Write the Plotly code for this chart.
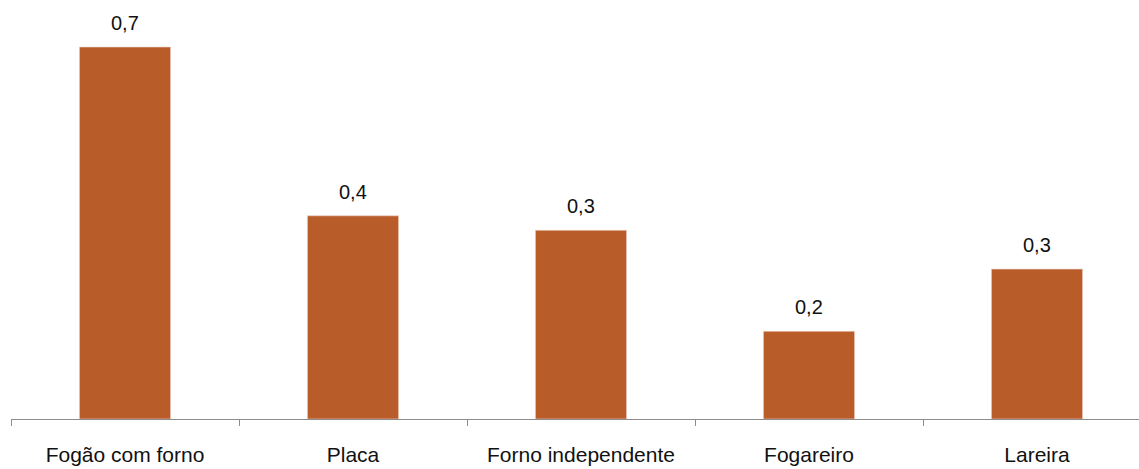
import plotly.graph_objects as go

categories = ["Fogão com forno", "Placa", "Forno independente", "Fogareiro", "Lareira"]
values = [0.67, 0.366, 0.340, 0.158, 0.270]
labels = ["0,7", "0,4", "0,3", "0,2", "0,3"]

BAR_COLOR = "#B85C29"

fig = go.Figure()
fig.add_trace(go.Bar(
    x=categories, y=values, width=0.40,
    marker=dict(color=BAR_COLOR, line=dict(color="#F2D9CC", width=0.6)),
    hoverinfo="skip",
))

for c, v, t in zip(categories, values, labels):
    fig.add_annotation(x=c, y=v, text=t, showarrow=False, yanchor="middle",
                       yshift=24, font=dict(family="Liberation Sans, Arial", size=20, color="#111111"))

fig.update_layout(
    width=1139, height=469,
    margin=dict(l=11, r=0, t=0, b=50),
    paper_bgcolor="white", plot_bgcolor="white",
    showlegend=False,
    font=dict(family="Liberation Sans, Arial", size=20, color="#111111"),
    xaxis=dict(
        type="category",
        range=[-0.5, -0.5 + 1128 / 228],
        showline=True, linecolor="#8C8C8C", linewidth=1.3,
        ticks="outside", tickson="boundaries", ticklen=6, tickcolor="#8C8C8C", tickwidth=1.3,
        ticklabelstandoff=17,
        showgrid=False, zeroline=False,
        tickfont=dict(family="Liberation Sans, Arial", size=21, color="#111111"),
    ),
    yaxis=dict(
        range=[0, 0.67 * 419 / 372],
        visible=False, showgrid=False, zeroline=False,
    ),
)

fig.write_html("out.html", post_script="document.body.style.margin='0';",
               config={"displayModeBar": False})
